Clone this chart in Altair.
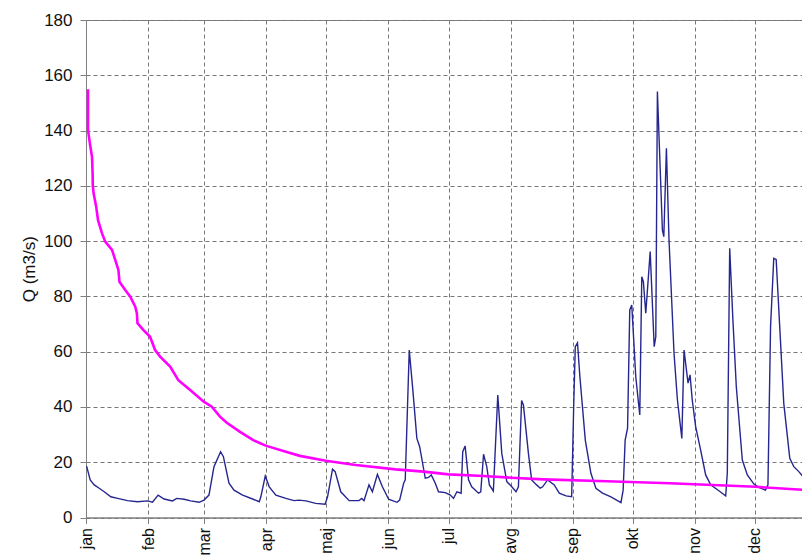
import altair as alt
import pandas as pd

# Month axis
month_labels = ["jan", "feb", "mar", "apr", "maj", "jun", "jul", "avg", "sep", "okt", "nov", "dec"]
month_starts = [0, 31, 59, 90, 120, 151, 181, 212, 243, 273, 304, 334]
y_ticks = [0, 20, 40, 60, 80, 100, 120, 140, 160, 180]

# Daily discharge hydrograph (day of year, Q m3/s)
flow_day = [0.3, 2.1, 4.1, 6.6, 9.1, 12.4, 15.8, 20.7, 25.7, 30.7, 33.2, 36.0, 39.0, 43.2, 45.3, 49.0,
            52.3, 56.5, 58.9, 61.4, 63.9, 67.2, 68.6, 71.4, 73.9, 78.2, 83.2, 86.5, 87.3, 89.5, 91.5,
            94.8, 99.8, 103.9, 106.4, 109.8, 114.7, 119.4, 120.6, 123.1, 124.4, 127.2, 131.4, 136.3,
            137.7, 138.8, 141.3, 143.0, 145.5, 148.0, 151.1, 155.3, 156.6, 158.6, 159.4, 161.4, 163.2,
            165.2, 166.6, 169.4, 171.0, 172.4, 174.4, 176.0, 179.4, 181.9, 183.5, 185.2, 187.3, 188.1,
            189.3, 191.0, 192.6, 196.0, 197.1, 198.5, 200.1, 201.4, 203.4, 205.6, 207.6, 210.1, 212.6,
            214.7, 215.9, 217.5, 218.4, 220.9, 222.5, 225.0, 226.8, 228.0, 230.5, 233.8, 236.3, 239.7,
            242.5, 243.5, 244.3, 245.4, 246.6, 249.3, 252.1, 254.6, 257.9, 262.1, 267.1, 268.2, 269.2,
            270.4, 271.5, 272.5, 274.5, 276.5, 277.5, 278.3, 279.5, 281.7, 283.7, 284.5, 285.3, 287.8,
            288.5, 289.8, 291.1, 293.6, 295.3, 297.5, 298.6, 300.6, 301.6, 302.7, 304.4, 306.9, 309.4,
            311.9, 316.0, 319.4, 320.2, 321.4, 323.0, 324.7, 327.7, 330.2, 333.5, 336.0, 339.3, 340.5,
            341.8, 343.4, 344.6, 348.4, 351.4, 353.4, 355.9, 358.0, 359.2, 360.4]
flow_q = [18.6, 13.6, 11.8, 10.6, 9.3, 7.5, 6.9, 6.1, 5.7, 6.0, 5.5, 8.1, 6.7, 6.0, 6.9, 6.6,
          6.0, 5.5, 6.3, 8.1, 18.4, 23.8, 22.0, 12.4, 9.9, 8.1, 6.7, 5.7, 7.5, 15.0, 11.1,
          8.1, 6.9, 6.1, 6.3, 6.0, 5.1, 4.8, 7.5, 17.5, 16.6, 9.3, 6.1, 6.1,
          6.9, 6.1, 11.8, 9.3, 15.6, 11.1, 6.6, 5.5, 6.3, 12.4, 13.6, 60.6, 46.1,
          28.6, 25.6, 14.2, 14.5, 15.4, 12.4, 9.3, 9.0, 8.1, 6.9, 9.3, 8.8, 23.8,
          25.9, 13.6, 11.1, 8.8, 9.3, 22.9, 18.4, 11.8, 9.6, 44.3, 23.2, 13.0, 11.1,
          9.3, 11.1, 42.3, 40.7, 23.2, 13.6, 11.8, 10.6, 11.1, 13.6, 11.8, 8.8, 7.8,
          7.5, 40.1, 61.8, 63.2, 50.9, 28.0, 16.0, 10.6, 8.8, 7.5, 5.4, 9.9, 28.0,
          32.3, 75.1, 76.9, 50.9, 37.1, 87.1, 85.3, 73.9, 96.2, 61.8, 65.4, 154.1, 104.0,
          101.6, 133.6, 100.4, 59.4, 42.5, 28.6, 60.6, 48.6, 51.6, 42.5, 32.9, 24.4, 15.4,
          11.8, 9.7, 7.8, 16.0, 97.4, 71.5, 47.3, 20.8, 15.4, 12.1, 10.9, 9.9, 11.8,
          69.0, 93.8, 93.4, 41.3, 21.4, 18.4, 16.6, 14.8, 19.6, 40.7]

# Duration curve (magenta)
dur_day = [1.0, 1.0, 2.0, 3.0, 3.3, 3.4, 3.8, 5.1, 6.0, 8.0, 9.6, 13.0, 14.6, 16.2, 16.7, 19.6, 22.1,
           24.6, 25.4, 25.7, 28.7, 32.0, 34.5, 37.0, 42.0, 46.1, 52.0, 58.8, 62.8, 66.9, 70.3,
           76.9, 83.5, 89.7, 99.8, 106.8, 119.7, 134.7, 154.6, 168.6, 181.0, 198.5, 212.3, 228.4,
           260.0, 291.5, 334.3, 361.0]
dur_q = [154.9, 140.2, 135.0, 130.5, 124.5, 119.9, 117.3, 112.4, 107.6, 102.8, 99.8, 96.8, 93.2, 89.5,
         85.3, 82.3, 79.9, 76.3, 73.9, 70.3, 67.8, 65.4, 60.6, 58.2, 54.6, 49.7, 46.1, 41.9, 40.1,
         36.5, 34.3, 31.0, 28.0, 26.0, 23.8, 22.3, 20.5, 19.0, 17.4, 16.6, 15.6, 15.0, 14.4, 13.8,
         13.1, 12.4, 11.1, 9.9]

flow_df = pd.DataFrame({"day": flow_day, "q": flow_q, "i": range(len(flow_day))})
dur_df = pd.DataFrame({"day": dur_day, "q": dur_q, "i": range(len(dur_day))})

label_expr = "[" + ",".join("'%s'" % m for m in month_labels) + "][indexof([" + \
    ",".join(str(d) for d in month_starts) + "], datum.value)]"

x_scale = alt.Scale(domain=[0, 357.5], nice=False, zero=False)
y_scale = alt.Scale(domain=[0, 180], nice=False)

x_enc = alt.X("day:Q", scale=x_scale,
              axis=alt.Axis(values=month_starts, labelExpr=label_expr, labelAngle=270,
                            labelAlign="right", labelBaseline="middle", labelPadding=4,
                            labelFontSize=16, title=None))
y_enc = alt.Y("q:Q", scale=y_scale,
              axis=alt.Axis(values=y_ticks, title="Q (m3/s)", labelPadding=8, titlePadding=5))

flow = alt.Chart(flow_df).mark_line(color="#262690", strokeWidth=1.4, clip=True).encode(
    x=x_enc, y=y_enc, order="i:Q")
dur = alt.Chart(dur_df).mark_line(color="#ff00ff", strokeWidth=2.6, clip=True).encode(
    x=x_enc, y=y_enc, order="i:Q")

chart = alt.layer(flow, dur).properties(
    width=716, height=497.5,
    autosize=alt.AutoSizeParams(type="none"),
    padding={"left": 78, "top": 12, "right": 0, "bottom": 39},
).configure_view(stroke="#808080", strokeWidth=1).configure_axis(
    gridColor="#777777", gridDash=[4, 3], gridWidth=1, gridOpacity=1,
    domainColor="#808080", domainWidth=1, tickColor="#808080", tickSize=6,
    labelFont="Liberation Sans", labelFontSize=17, labelColor="#111111",
    titleFont="Liberation Sans", titleFontSize=17, titleFontWeight="normal", titleColor="#111111",
)

chart.save("out.html", embed_options={"renderer": "svg", "actions": False})
